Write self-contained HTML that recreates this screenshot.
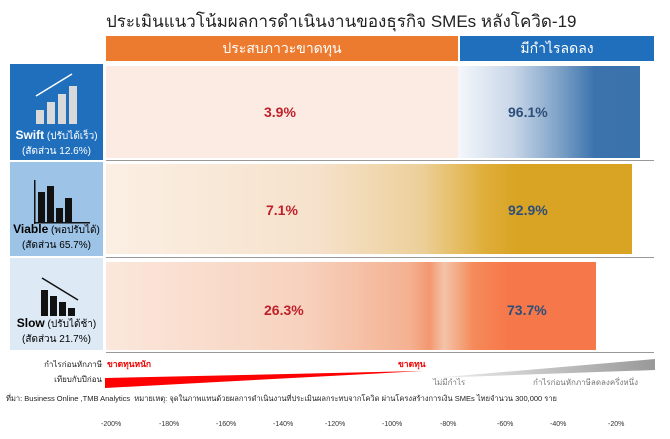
<!DOCTYPE html>
<html><head><meta charset="utf-8"><style>
body{margin:0;width:670px;height:439px;background:#fff;position:relative;overflow:hidden;font-family:"Liberation Sans","Noto Sans CJK SC","WenQuanYi Zen Hei",sans-serif}
.a{position:absolute}
.t{font-size:17px;color:#222;left:106px;top:8px;white-space:nowrap}
.hd{color:#fff;font-size:14px;text-align:center;line-height:25px;top:36px;height:25px}
.lb{left:10px;width:93px;color:#fff;text-align:center;font-size:10px}
.pc{font-size:14px;font-weight:bold}
.ax{font-size:7px;color:#333;top:421px}
</style></head><body>
<div class="a t">ประเมินแนวโน้มผลการดำเนินงานของธุรกิจ SMEs หลังโควิด-19</div>
<div class="a hd" style="left:106px;width:352px;background:#ec7b2f">ประสบภาวะขาดทุน</div>
<div class="a hd" style="left:460px;width:194px;background:#1f6fbd">มีกำไรลดลง</div>

<div class="a lb" style="top:64px;height:96px;background:#1f6fbd"></div>
<div class="a lb" style="top:162px;height:94px;background:#9dc3e6;color:#000"></div>
<div class="a lb" style="top:258px;height:92px;background:#dde9f5;color:#000"></div>

<svg class="a" style="left:10px;top:64px" width="93" height="290">
<g fill="#d9d9d9"><rect x="26" y="46" width="8" height="14"/><rect x="37" y="38" width="8" height="22"/><rect x="48" y="30" width="8" height="30"/><rect x="59" y="22" width="8" height="38"/></g>
<line x1="26" y1="32" x2="62" y2="10" stroke="#fff" stroke-width="1.5"/>
<g fill="#111"><rect x="28" y="128" width="7" height="30"/><rect x="37" y="122" width="7" height="36"/><rect x="46" y="144" width="7" height="14"/><rect x="55" y="134" width="7" height="24"/><rect x="24" y="116" width="1.5" height="44"/><rect x="24" y="158" width="56" height="1.5"/>
<rect x="31" y="226" width="7" height="26"/><rect x="40" y="232" width="7" height="20"/><rect x="49" y="238" width="7" height="14"/><rect x="58" y="244" width="7" height="8"/></g>
<line x1="32" y1="214" x2="68" y2="236" stroke="#111" stroke-width="1.5"/>
</svg>
<div class="a lb" style="top:128px;font-size:10px"><b style="font-size:12px">Swift</b> (ปรับได้เร็ว)<br>(สัดส่วน 12.6%)</div>
<div class="a lb" style="top:222px;color:#000"><b style="font-size:12px">Viable</b> (พอปรับได้)<br>(สัดส่วน 65.7%)</div>
<div class="a lb" style="top:316px;color:#000"><b style="font-size:12px">Slow</b> (ปรับได้ช้า)<br>(สัดส่วน 21.7%)</div>

<div class="a" style="left:106px;top:66px;width:352px;height:92px;background:#fcebe2"></div>
<div class="a" style="left:458px;top:66px;width:182px;height:92px;background:linear-gradient(90deg,#f4f7fb 0%,#c9d7e8 30%,#7fa3c8 55%,#3c73ad 75%,#3a72ac 100%)"></div>
<div class="a" style="left:106px;top:164px;width:526px;height:90px;background:linear-gradient(90deg,#fbefe4 0%,#f6e2cc 40%,#ecd09a 60%,#dfae3a 72%,#d9a424 78%,#d9a424 100%)"></div>
<div class="a" style="left:106px;top:262px;width:490px;height:88px;background:linear-gradient(90deg,#fbe7dc 0%,#f7d2be 40%,#f4b191 62%,#f39770 66%,#f3c4a8 69%,#f58a5a 75%,#f6784a 82%,#f6784a 100%)"></div>
<div class="a" style="left:106px;top:160px;width:548px;border-top:1px solid #999"></div>
<div class="a" style="left:106px;top:257px;width:548px;border-top:1px solid #999"></div>
<div class="a" style="left:106px;top:352px;width:548px;border-top:1px solid #999"></div>

<div class="a pc" style="left:264px;top:104px;color:#c0202a">3.9%</div>
<div class="a pc" style="left:508px;top:104px;color:#2d4e7a">96.1%</div>
<div class="a pc" style="left:266px;top:202px;color:#c0202a">7.1%</div>
<div class="a pc" style="left:508px;top:202px;color:#2d4e7a">92.9%</div>
<div class="a pc" style="left:264px;top:302px;color:#c0202a">26.3%</div>
<div class="a pc" style="left:507px;top:302px;color:#2d4e7a">73.7%</div>

<div class="a" style="left:10px;top:357px;width:92px;text-align:right;font-size:8px;color:#222;line-height:15px">กำไรก่อนหักภาษี<br>เทียบกับปีก่อน</div>
<div class="a" style="left:107px;top:357px;font-size:8.5px;font-weight:bold;color:#e00">ขาดทุนหนัก</div>
<div class="a" style="left:398px;top:357px;font-size:8.5px;font-weight:bold;color:#e00">ขาดทุน</div>
<svg class="a" style="left:0;top:0" width="670" height="439">
<defs><linearGradient id="g" x1="0" x2="1"><stop offset="0" stop-color="#f0f0f0"/><stop offset="1" stop-color="#999"/></linearGradient></defs>
<polygon points="105,378 423,371 105,388" fill="#f00"/>
<polygon points="433,378 655,359 655,370" fill="url(#g)"/>
</svg>
<div class="a" style="left:433px;top:376px;font-size:8px;color:#777">ไม่มีกำไร</div>
<div class="a" style="left:533px;top:376px;font-size:8px;color:#777">กำไรก่อนหักภาษีลดลงครึ่งหนึ่ง</div>
<div class="a" style="left:6px;top:393px;font-size:7.5px;color:#222;white-space:nowrap">ที่มา: Business Online ,TMB Analytics &nbsp;หมายเหตุ: จุดในภาพแทนด้วยผลการดำเนินงานที่ประเมินผลกระทบจากโควิด ผ่านโครงสร้างการเงิน SMEs ไทยจำนวน 300,000 ราย</div>
<div class="a ax" style="left:101px">-200%</div><div class="a ax" style="left:159px">-180%</div><div class="a ax" style="left:216px">-160%</div><div class="a ax" style="left:273px">-140%</div><div class="a ax" style="left:325px">-120%</div><div class="a ax" style="left:382px">-100%</div><div class="a ax" style="left:440px">-80%</div><div class="a ax" style="left:497px">-60%</div><div class="a ax" style="left:550px">-40%</div><div class="a ax" style="left:608px">-20%</div>
</body></html>
